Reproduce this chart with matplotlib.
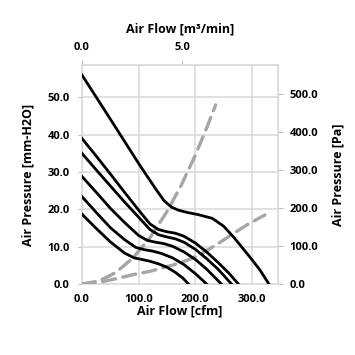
import matplotlib
matplotlib.use('Agg')
import matplotlib.pyplot as plt

# fan P-Q curves, air flow [cfm] vs static pressure [mm-H2O]
top_x = [0, 50, 100, 130, 145, 158, 170, 185, 205, 230, 250, 267, 296, 314, 330]
top_y = [56.0, 44.2, 32.3, 25.5, 22.3, 20.6, 19.8, 19.2, 18.6, 17.6, 15.5, 12.7, 7.3, 3.8, 0.0]

a_x = [0, 25, 50, 75, 100, 120, 135, 150, 165, 180, 200, 220, 240, 260, 276]
a_y = [39.0, 34.3, 29.5, 24.6, 19.8, 16.1, 14.6, 14.0, 13.6, 12.8, 11.0, 8.6, 5.8, 2.8, 0.0]

b_x = [0, 25, 50, 75, 100, 120, 135, 150, 165, 180, 200, 220, 240, 264]
b_y = [35.0, 30.6, 26.3, 22.0, 17.9, 14.6, 13.2, 12.6, 12.1, 11.2, 9.3, 6.8, 4.0, 0.0]

c_x = [0, 25, 50, 75, 100, 115, 130, 145, 160, 180, 200, 220, 246]
c_y = [28.8, 24.6, 20.3, 16.5, 13.0, 11.7, 11.2, 10.8, 10.1, 8.6, 6.6, 4.0, 0.0]

d_x = [0, 25, 50, 75, 95, 110, 125, 140, 160, 180, 200, 220]
d_y = [23.4, 19.2, 15.1, 11.9, 9.8, 9.2, 8.8, 8.2, 7.0, 5.2, 2.8, 0.0]

e_x = [0, 25, 50, 75, 92, 105, 120, 135, 150, 165, 178, 188]
e_y = [18.7, 14.9, 11.3, 8.3, 7.0, 6.6, 6.1, 5.4, 4.5, 3.1, 1.6, 0.0]

# system impedance curves
sys1_x = [0, 30, 60, 90, 120, 150, 175, 200, 220, 236]
sys1_y = [0.0, 0.8, 3.1, 7.0, 12.4, 19.4, 26.4, 34.5, 41.8, 48.0]

sys2_x = [0, 35, 60, 90, 120, 161, 190, 210, 240, 267, 295, 323]
sys2_y = [0.0, 0.6, 1.4, 2.5, 3.4, 5.1, 6.6, 8.0, 10.8, 13.5, 16.2, 18.5]

CFM_TO_M3 = 0.0283168
MM_TO_PA = 9.80665

fnt = 'Open Sans'
tick_fs = 8
lab_fs = 9
fig = plt.figure(figsize=(3.55, 3.55), dpi=100)
ax = fig.add_axes([0.231, 0.2, 0.552, 0.617])

for xs, ys in [(sys1_x, sys1_y), (sys2_x, sys2_y)]:
    ax.plot(xs, ys, color='#A6A6A6', lw=2.4, dashes=(4, 2.2),
            dash_capstyle='round', zorder=3)
for xs, ys in [(top_x, top_y), (a_x, a_y), (b_x, b_y), (c_x, c_y),
               (d_x, d_y), (e_x, e_y)]:
    ax.plot(xs, ys, color='black', lw=2.0, zorder=4)

ax.set_xlim(0, 346)
ax.set_ylim(0, 58.7)
ax.set_xticks([0, 100, 200, 300])
ax.set_yticks([0, 10, 20, 30, 40, 50])
ax.set_xticklabels(['%.1f' % v for v in [0, 100, 200, 300]])
ax.set_yticklabels(['%.1f' % v for v in [0, 10, 20, 30, 40, 50]])
ax.grid(True, color='#D9D9D9', lw=1.1)
ax.set_axisbelow(True)
for s in ax.spines.values():
    s.set_color('#D9D9D9')
    s.set_linewidth(1.1)
ax.tick_params(axis='x', length=0, pad=7, labelsize=tick_fs, colors='black')
ax.tick_params(axis='y', length=3, pad=6, labelsize=tick_fs, color='#BFBFBF')
for lab in ax.get_xticklabels() + ax.get_yticklabels():
    lab.set_fontweight('bold')
    lab.set_family(fnt)
ax.set_xlabel('Air Flow [cfm]', fontsize=lab_fs, fontweight='bold', family=fnt,
              labelpad=0)
ax.set_ylabel('Air Pressure [mm-H2O]', fontsize=lab_fs, fontweight='bold',
              family=fnt, labelpad=9)

top = ax.secondary_xaxis('top', functions=(lambda x: x * CFM_TO_M3,
                                           lambda x: x / CFM_TO_M3))
top.set_xticks([0, 5])
top.set_xticklabels(['0.0', '5.0'])
top.tick_params(length=3.5, pad=5, labelsize=tick_fs, color='#BFBFBF')
top.spines['top'].set_color('#D9D9D9')
for lab in top.get_xticklabels():
    lab.set_fontweight('bold')
    lab.set_family(fnt)
top.set_xlabel('Air Flow [m³/min]', fontsize=lab_fs, fontweight='bold',
               family=fnt, labelpad=7)

right = ax.secondary_yaxis('right', functions=(lambda y: y * MM_TO_PA,
                                               lambda y: y / MM_TO_PA))
right.set_yticks([0, 100, 200, 300, 400, 500])
right.set_yticklabels(['%.1f' % v for v in [0, 100, 200, 300, 400, 500]])
right.tick_params(length=3.5, pad=5, labelsize=tick_fs, color='#BFBFBF')
right.spines['right'].set_color('#D9D9D9')
for lab in right.get_yticklabels():
    lab.set_fontweight('bold')
    lab.set_family(fnt)
right.set_ylabel('Air Pressure [Pa]', fontsize=lab_fs, fontweight='bold',
                 family=fnt, labelpad=9)

fig.savefig('out.png', dpi=100)
